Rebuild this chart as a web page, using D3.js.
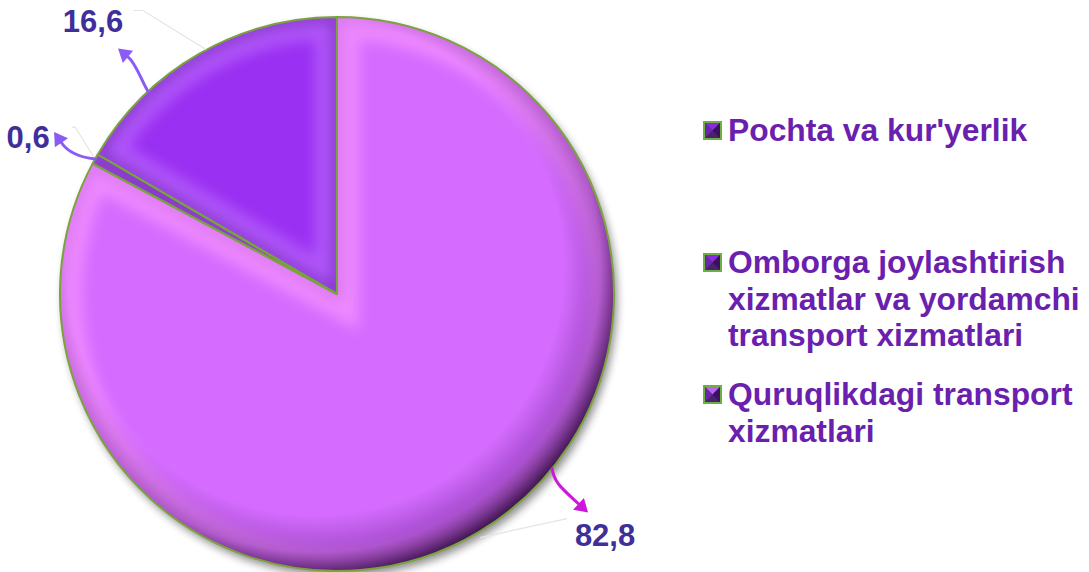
<!DOCTYPE html>
<html>
<head>
<meta charset="utf-8">
<script src="https://cdn.jsdelivr.net/npm/d3@7"></script>
<style>
  body { margin: 0; background: #fff; }
  svg { display: block; }
  text { font-family: "Liberation Sans", Arial, sans-serif; font-weight: bold; }
</style>
</head>
<body>
<div id="chart"></div>
<script>
// legend order
var categories = ["Pochta va kur'yerlik",
    "Omborga joylashtirish xizmatlar va yordamchi transport xizmatlari",
    "Quruqlikdagi transport xizmatlari"];
var legend_lines = [["Pochta va kur'yerlik"],
    ["Omborga joylashtirish", "xizmatlar va yordamchi", "transport xizmatlari"],
    ["Quruqlikdagi transport", "xizmatlari"]];
var values = [16.6, 0.6, 82.8];
var value_labels = ["16,6", "0,6", "82,8"];
// drawing order of slices, clockwise from 12 o'clock
var pie_order = [2, 1, 0];

var width = 1089, height = 572,
    cx = 337, cy = 294, radius = 277;

var fills = ["#9a30f2", "#a23cf0", "#d56cff"],
    glows = ["#c070ff", "#c070ff", "#ff9cff"],
    markerFills = ["#8a2be2", "#8a2be2", "#c060f0"];

var svg = d3.select("#chart").append("svg")
    .attr("width", width)
    .attr("height", height);

var defs = svg.append("defs");

var shadow = defs.append("filter").attr("id", "shadow")
    .attr("x", "-10%").attr("y", "-10%").attr("width", "130%").attr("height", "130%");
shadow.append("feGaussianBlur").attr("in", "SourceAlpha").attr("stdDeviation", 4).attr("result", "b");
shadow.append("feOffset").attr("in", "b").attr("dx", 3).attr("dy", 5).attr("result", "o");
shadow.append("feComponentTransfer").attr("in", "o").attr("result", "s")
    .append("feFuncA").attr("type", "linear").attr("slope", 0.45);
var fm = shadow.append("feMerge");
fm.append("feMergeNode").attr("in", "s");
fm.append("feMergeNode").attr("in", "SourceGraphic");

defs.append("filter").attr("id", "blur")
    .append("feGaussianBlur").attr("stdDeviation", 7);

var rim = defs.append("radialGradient").attr("id", "rim")
    .attr("cx", 0.46).attr("cy", 0.45).attr("r", 0.56);
rim.append("stop").attr("offset", 0.8).attr("stop-color", "#3a0060").attr("stop-opacity", 0);
rim.append("stop").attr("offset", 0.92).attr("stop-color", "#3a0060").attr("stop-opacity", 0.3);
rim.append("stop").attr("offset", 1).attr("stop-color", "#200030").attr("stop-opacity", 0.8);

var pie = d3.pie().sort(null).value(function(d) { return values[d]; });
var arcs = pie(pie_order);
var arc = d3.arc().innerRadius(0).outerRadius(radius);

var g = svg.append("g").attr("transform", "translate(" + cx + "," + cy + ")");

// base with drop shadow
g.append("circle").attr("r", radius).attr("fill", "#c060f0").attr("filter", "url(#shadow)");

arcs.forEach(function(a, k) {
    var i = a.data;
    var clipId = "clip" + k;
    defs.append("clipPath").attr("id", clipId)
        .append("path").attr("d", arc(a)).attr("transform", "translate(" + cx + "," + cy + ")");

    var sg = svg.append("g").attr("clip-path", "url(#" + clipId + ")")
        .append("g").attr("transform", "translate(" + cx + "," + cy + ")");

    sg.append("path").attr("d", arc(a)).attr("fill", fills[i]);
    // bevel glow along the slice edges
    sg.append("path").attr("d", arc(a))
        .attr("fill", "none")
        .attr("stroke", glows[i])
        .attr("stroke-width", 44)
        .attr("opacity", 0.6)
        .attr("filter", "url(#blur)");
    sg.append("path").attr("d", arc(a))
        .attr("fill", "none")
        .attr("stroke", "#3a0070")
        .attr("stroke-width", 8)
        .attr("opacity", i === 2 ? 0.15 : 0.45)
        .attr("filter", "url(#blur)");
});

// rim shading
svg.append("circle").attr("cx", cx).attr("cy", cy).attr("r", radius).attr("fill", "url(#rim)");

// green outlines
var og = svg.append("g").attr("transform", "translate(" + cx + "," + cy + ")");
og.selectAll("path").data(arcs).enter().append("path")
    .attr("d", arc)
    .attr("fill", "none")
    .attr("stroke", "#7aa33c")
    .attr("stroke-width", 2)
    .attr("stroke-linejoin", "round");

// labels with leader lines and curved arrows
// frac: where on the slice the arrow starts; offsets relative to that rim point
var labelConf = [
    {frac: 0.28, lead: [[-15, -81], [-5, -81], [58, -42]], ctrl: [[-8, -14], [-12, -28]], tip: [-30, -43], text: [-55, -70], color: "#8a5cf5"},
    {frac: 0.5, lead: [[-23, -32], [-20, -32], [0, 0]], ctrl: [[-18, -2], [-28, -8]], tip: [-41, -27], text: [-67, -22], color: "#8a5cf5"},
    {frac: 0.433, lead: [[15, 50], [-72, 69]], ctrl: [[2, 14], [10, 20]], tip: [36, 44], text: [53, 67], color: "#cc18d8"}
];

var labels = svg.append("g");
arcs.forEach(function(a) {
    var i = a.data, c = labelConf[i];
    var ang = a.startAngle + (a.endAngle - a.startAngle) * c.frac;
    var px = cx + radius * Math.sin(ang), py = cy - radius * Math.cos(ang);

    labels.append("path")
        .attr("d", d3.line()(c.lead.map(function(p) { return [px + p[0], py + p[1]]; })))
        .attr("fill", "none")
        .attr("stroke", "#e4e4e4")
        .attr("stroke-width", 1.2);

    var mid = [px + c.ctrl[1][0], py + c.ctrl[1][1]];
    var tip = [px + c.tip[0], py + c.tip[1]];
    var dx = tip[0] - mid[0], dy = tip[1] - mid[1], len = Math.sqrt(dx * dx + dy * dy);
    var ux = dx / len, uy = dy / len;
    var base = [tip[0] - ux * 13, tip[1] - uy * 13];
    var p = d3.path();
    p.moveTo(px, py);
    p.bezierCurveTo(px + c.ctrl[0][0], py + c.ctrl[0][1], mid[0], mid[1], base[0], base[1]);
    labels.append("path").attr("d", p.toString())
        .attr("fill", "none").attr("stroke", c.color).attr("stroke-width", 3)
        .attr("stroke-linecap", "round");
    labels.append("path")
        .attr("d", d3.line()([tip, [base[0] - uy * 8, base[1] + ux * 8], [base[0] + uy * 8, base[1] - ux * 8]]) + "Z")
        .attr("fill", c.color);

    labels.append("text")
        .attr("x", px + c.text[0])
        .attr("y", py + c.text[1])
        .attr("text-anchor", "middle")
        .attr("dominant-baseline", "central")
        .attr("font-size", 31)
        .attr("fill", "#3f2f9a")
        .text(value_labels[i]);
});

// legend
var legendTops = [121, 253, 385];
var legend = svg.append("g");
categories.forEach(function(d, i) {
    var y = legendTops[i];
    var lg = legend.append("g").attr("transform", "translate(703," + y + ")");
    lg.append("rect").attr("width", 19).attr("height", 19).attr("fill", "#6bb040");
    lg.append("rect").attr("x", 2).attr("y", 2).attr("width", 15).attr("height", 15).attr("fill", "#4a2070");
    lg.append("path").attr("d", "M2,2L17,2L9.5,9.5Z").attr("fill", markerFills[i]);
    lg.append("path").attr("d", "M2,2L9.5,9.5L2,17Z").attr("fill", "#6a28a8");
    lg.append("path").attr("d", "M17,2L9.5,9.5L17,17Z").attr("fill", "#3a1060");

    legend_lines[i].forEach(function(line, j) {
        legend.append("text")
            .attr("x", 728)
            .attr("y", y + 20 + j * 36.5)
            .attr("font-size", 31.8)
            .attr("fill", "#6a1fae")
            .text(line);
    });
});
</script>
</body>
</html>
